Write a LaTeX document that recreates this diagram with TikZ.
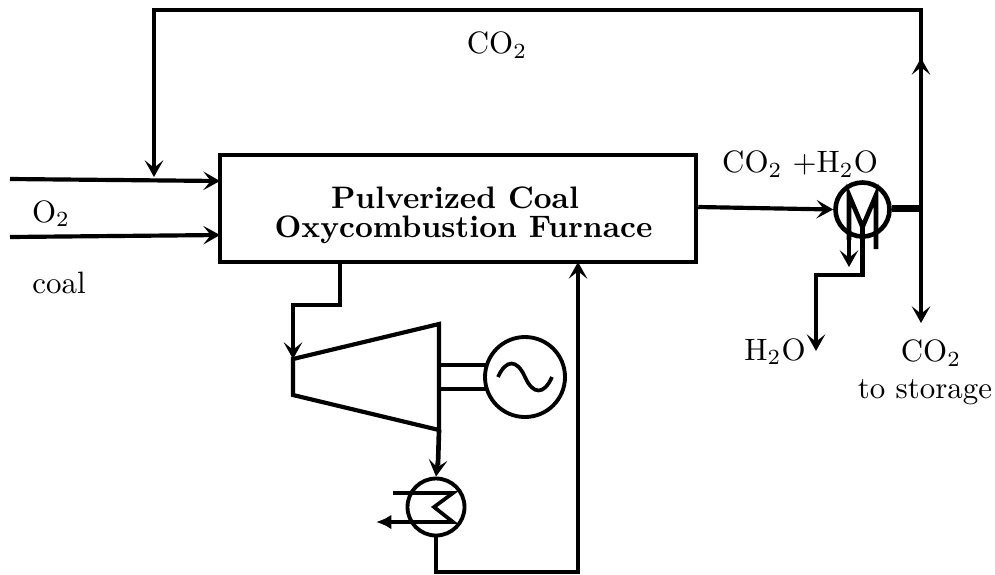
\documentclass[tikz,border=0pt]{standalone}
\usetikzlibrary{arrows.meta,decorations.markings}
\begin{document}
\begin{tikzpicture}[x=0.3236pt,y=-0.3236pt,
  line join=miter,
  pipe/.style={line width=1.35pt,draw=black},
  thin pipe/.style={line width=1.2pt,draw=black},
  tip/.style={-{Stealth[length=5.4pt,width=6pt,inset=2.4pt]}},
  lbl/.style={inner sep=0pt,outer sep=0pt,align=center}]
\useasboundingbox (0,0) rectangle (995,574);
% furnace
\node[draw,line width=1.45pt,minimum width=476*0.3236pt,minimum height=107*0.3236pt,inner sep=0pt,anchor=center] (furnace) at (458,208.5) {};
\node[lbl,font=\bfseries,anchor=center,scale=1.005] (ftext1) at (455,198) {Pulverized Coal};
\node[lbl,font=\bfseries,anchor=center,scale=1.005] (ftext2) at (463.5,230) {Oxycombustion Furnace};
% labels
\node[lbl] (lco2top) at (497,45) {CO$_2$};
\node[lbl] (lo2) at (51,213.5) {O$_2$};
\node[lbl] (lcoal) at (59,282.5) {coal};
\node[lbl] (lmix) at (800,164) {CO$_2$ +H$_2$O};
\node[lbl] (lh2o) at (775,351.5) {H$_2$O};
\node[lbl] (lco2s) at (931,353) {CO$_2$};
\node[lbl] (lstor) at (925,392) {to storage};
% coordinates
\coordinate (o2s) at (10,179);
\coordinate (coals) at (10,237);
\coordinate (o2e) at (220,181);
\coordinate (coale) at (220,235);
\coordinate (recyc) at (154,177);
\coordinate (tl) at (154,10);
\coordinate (tr) at (921,10);
\coordinate (junc) at (921,208.5);
\coordinate (mid) at (921,58);
\coordinate (stor) at (921,323);
% separator
\node[draw,circle,line width=1.5pt,minimum size=54*0.3236pt,inner sep=0pt] (sep) at (862.5,209.5) {};
\coordinate (mL) at (849,195);
\coordinate (mR) at (876,195);
\coordinate (mM) at (862.5,227);
\coordinate (mLe) at (849,267);
\coordinate (mRe) at (876,249);
\coordinate (w1) at (862.5,275);
\coordinate (w2) at (816,275);
\coordinate (w3) at (816,351);
\draw[pipe,line width=1.5pt,line join=miter] (mRe) -- (mR) -- (mM) -- (mL) -- (849,240);
\draw[pipe,line width=1.5pt,tip] (849,230) -- (mLe);
\draw[pipe,tip] (mM) -- (w1) -- (w2) -- (w3);
% main connectors
\draw[pipe,tip] (o2s) -- (o2e);
\draw[pipe,tip] (coals) -- (coale);
\draw[pipe,tip] (junc) -- (tr) -- (tl) -- (recyc);
\draw[pipe,tip] (junc) -- (mid);
\draw[pipe,tip] (junc) -- (stor);
\draw[pipe,tip] (furnace.east |- 0,207) -- (sep.west);
\draw[line width=2.2pt] (sep.east |- junc) -- (junc);
% turbine
\coordinate (t1) at (293,359);
\coordinate (t2) at (439,324);
\coordinate (t3) at (439,430);
\coordinate (t4) at (293,395);
\draw[pipe,line join=miter] (t1) -- (t2) -- (t3) -- (t4) -- cycle;
\coordinate (a1) at (340,262);
\coordinate (a2) at (340,305);
\coordinate (a3) at (293,305);
\draw[pipe,tip] (a1) -- (a2) -- (a3) -- (t1);
% generator
\draw[line width=1.2pt] (439,365) -- (495,365);
\draw[line width=1.2pt] (439,389) -- (495,389);
\node[draw,circle,fill=white,line width=1.25pt,minimum size=80*0.3236pt,inner sep=0pt] (gen) at (525,377) {};
\draw[line width=1.2pt] (498,377) .. controls (506,359) and (517,359) .. (525,377) .. controls (533,395) and (544,395) .. (552,377);
% condenser
\node[draw,circle,line width=1.25pt,minimum size=57*0.3236pt,inner sep=0pt] (cond) at (436,507) {};
\coordinate (c1) at (393,493);
\coordinate (c2) at (453,493);
\coordinate (c3) at (434,507);
\coordinate (c4) at (453,522);
\coordinate (c5) at (376,522);
\draw[line width=1.2pt,-{Latex[length=5pt,width=4.8pt]}] (c1) -- (c2) -- (c3) -- (c4) -- (c5);
\draw[line width=1.5pt] (t3) -- (438,465);
\draw[pipe,tip] (438,460) -- (cond.north);
\coordinate (b1) at (436,572);
\coordinate (b2) at (578,572);
\draw[thin pipe,tip] (cond.south) -- (b1) -- (b2) -- (578,262);
\end{tikzpicture}
\end{document}
